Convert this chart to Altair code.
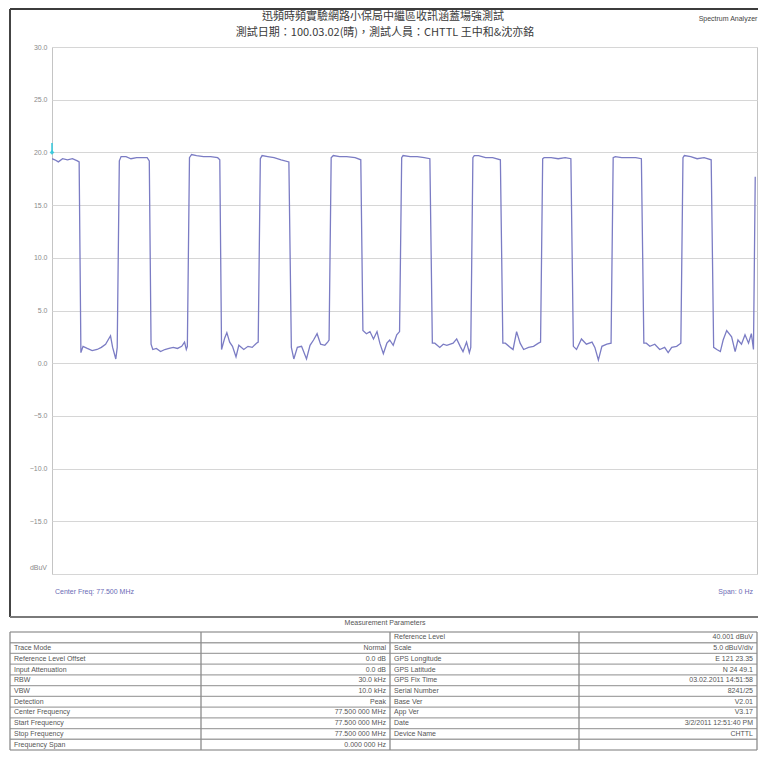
import altair as alt
import pandas as pd

# ---------------- data ----------------
time_ms = [
    0.0, 0.4, 0.9, 1.5, 2.2, 2.9, 3.6, 3.85,
    4.1, 4.4, 5.0, 5.7, 6.4, 7.0, 7.6, 8.3, 8.6, 9.05, 9.25,
    9.55, 9.8, 10.5, 11.2, 12.0, 12.8, 13.5, 13.8,
    14.05, 14.3, 14.8, 15.4, 16.0, 16.6, 17.2, 17.8, 18.4, 18.8, 19.05, 19.2,
    19.5, 19.8, 20.5, 21.5, 22.5, 23.5, 23.8,
    24.05, 24.5, 24.8, 25.2, 25.6, 26.1, 26.5, 27.2, 27.8, 28.4, 29.0, 29.25,
    29.55, 29.8, 30.6, 31.5, 32.5, 33.6,
    33.95, 34.3, 34.8, 35.4, 36.1, 36.6, 37.1, 37.6, 38.1, 38.7, 39.1, 39.3,
    39.6, 39.9, 40.8, 41.8, 43.0, 43.8,
    44.1, 44.6, 45.1, 45.6, 46.1, 46.5, 47.0, 47.5, 47.9, 48.4, 48.9, 49.3,
    49.6, 49.8, 50.8, 51.8, 52.8, 53.6,
    53.95, 54.3, 55.0, 55.5, 56.0, 56.9, 57.4, 57.9, 58.3, 58.8, 59.2, 59.4,
    59.7, 59.9, 60.5, 61.5, 62.5, 63.6,
    63.95, 64.3, 65.0, 65.4, 65.9, 66.4, 66.9, 67.6, 68.3, 69.0, 69.3,
    69.6, 69.8, 70.8, 71.8, 72.8, 73.6,
    73.95, 74.4, 75.1, 75.8, 76.6, 77.0, 77.5, 78.0, 78.7, 79.3,
    79.6, 79.9, 80.8, 81.8, 82.8, 83.6,
    83.95, 84.3, 84.8, 85.5, 86.2, 86.9, 87.4, 87.9, 88.6, 89.2,
    89.5, 89.7, 90.6, 91.5, 92.5, 93.5,
    93.85, 94.3, 94.8, 95.2, 95.7, 96.4, 96.9, 97.3, 97.8, 98.3, 98.8, 99.2, 99.5,
    99.75,
]
level_dbuv = [
    19.4, 19.3, 19.1, 19.4, 19.3, 19.4, 19.2, 19.1,
    1.0, 1.6, 1.4, 1.2, 1.3, 1.5, 1.8, 2.6, 1.5, 0.4, 1.5,
    19.2, 19.6, 19.6, 19.4, 19.5, 19.5, 19.5, 19.2,
    1.8, 1.3, 1.4, 1.1, 1.3, 1.4, 1.5, 1.4, 1.6, 2.0, 1.3, 1.6,
    19.5, 19.8, 19.7, 19.6, 19.6, 19.5, 19.3,
    1.3, 2.4, 2.9, 2.0, 1.6, 0.6, 1.7, 1.3, 1.6, 1.5, 1.9, 2.0,
    19.4, 19.7, 19.6, 19.5, 19.3, 19.1,
    1.5, 0.4, 1.5, 1.6, 0.4, 1.7, 2.2, 2.8, 1.8, 1.7, 2.0, 2.2,
    19.5, 19.7, 19.6, 19.6, 19.5, 19.3,
    3.1, 2.8, 3.0, 2.3, 3.0, 1.9, 0.9, 1.9, 2.2, 1.7, 2.7, 3.0,
    19.5, 19.7, 19.6, 19.6, 19.5, 19.4,
    1.9, 1.9, 1.5, 1.8, 1.7, 1.9, 2.3, 1.6, 1.1, 2.0, 1.0, 1.5,
    19.5, 19.7, 19.7, 19.5, 19.5, 19.3,
    1.9, 1.9, 1.5, 1.3, 3.0, 1.9, 1.3, 1.5, 1.6, 1.9, 2.0,
    19.4, 19.5, 19.5, 19.4, 19.5, 19.4,
    1.6, 1.3, 2.3, 1.8, 2.0, 1.5, 0.3, 1.6, 1.8, 1.9,
    19.5, 19.6, 19.5, 19.5, 19.5, 19.4,
    1.9, 1.9, 1.6, 1.8, 1.3, 1.5, 1.0, 1.5, 1.6, 1.9,
    19.5, 19.7, 19.6, 19.4, 19.5, 19.3,
    1.5, 1.3, 1.1, 2.2, 3.1, 2.5, 1.1, 2.2, 1.8, 2.7, 1.9, 2.8, 1.3,
    17.7,
]
y_ticks = [-20, -15, -10, -5, 0, 5, 10, 15, 20, 25, 30]
marker_time = [0.0]
marker_level = [20.0]

title_line1 = "迅頻時頻實驗網路小保局中繼區收訊涵蓋場強測試"
title_line2 = "測試日期：100.03.02(晴)，測試人員：CHTTL 王中和&沈亦銘"
corner_label = "Spectrum Analyzer"
center_label = "Center Freq: 77.500 MHz"
span_label = "Span: 0 Hz"
unit_label = "dBuV"
table_header = "Measurement Parameters"

left_labels = ["", "Trace Mode", "Reference Level Offset", "Input Attenuation", "RBW", "VBW",
               "Detection", "Center Frequency", "Start Frequency", "Stop Frequency", "Frequency Span"]
left_values = ["", "Normal", "0.0 dB", "0.0 dB", "30.0 kHz", "10.0 kHz",
               "Peak", "77.500 000 MHz", "77.500 000 MHz", "77.500 000 MHz", "0.000 000 Hz"]
right_labels = ["Reference Level", "Scale", "GPS Longitude", "GPS Latitude", "GPS Fix Time",
                "Serial Number", "Base Ver", "App Ver", "Date", "Device Name", ""]
right_values = ["40.001  dBuV", "5.0  dBuV/div", "E 121 23.35", "N 24 49.1", "03.02.2011 14:51:58",
                "8241/25", "V2.01", "V3.17", "3/2/2011 12:51:40 PM", "CHTTL", ""]

# ---------------- layout (pixels, relative to the plot's top-left) ----------------
W, H = 705, 527
FONT = "Liberation Sans"
CJK = "Noto Sans CJK TC"
one = pd.DataFrame({"k": [0]})

trace = pd.DataFrame({"t": time_ms, "v": level_dbuv})
xs = alt.Scale(domain=[0, 100])
ys = alt.Scale(domain=[-20, 30])

y_axis = alt.Axis(
    values=y_ticks, grid=True, gridColor="#d6d6d6", gridWidth=1, domain=False, ticks=False,
    labelPadding=5, labelFontSize=7, labelColor="#8a8a8a", labelFont=FONT, title=None,
    labelExpr="datum.value == -20 ? '' : format(datum.value, '.1f')")

line = alt.Chart(trace).mark_line(color="#7b7cc4", strokeWidth=1.3, clip=True).encode(
    x=alt.X("t:Q", scale=xs, axis=None),
    y=alt.Y("v:Q", scale=ys, axis=y_axis),
)

mk = pd.DataFrame({"t": marker_time, "v": marker_level})
marker = alt.Chart(mk).mark_point(shape="diamond", filled=True, color="#33c8dc", size=22, opacity=0.9).encode(
    x=alt.X("t:Q", scale=xs, axis=None), y=alt.Y("v:Q", scale=ys, axis=y_axis))
marker_tick = alt.Chart(mk).mark_rule(color="#33c8dc", strokeWidth=1.5).encode(
    x=alt.X("t:Q", scale=xs, axis=None), y=alt.Y("v:Q", scale=ys, axis=y_axis), y2=alt.Y2Datum(20.9))

unit_txt = alt.Chart(one).mark_text(text=unit_label, align="right", baseline="middle", fontSize=7,
                                    color="#8a8a8a", font=FONT).encode(
    x=alt.value(-5), y=alt.Y(datum=-19.4, scale=ys, axis=y_axis))

def label(txt, x, y, size=7, color="#6b6bb5", align="left", font=FONT, baseline="middle"):
    return alt.Chart(one).mark_text(text=txt, align=align, baseline=baseline, fontSize=size,
                                    color=color, font=font).encode(
        x=alt.value(x), y=alt.value(y))

texts = [
    label(title_line1, 331, -36.5, size=11, color="#3a3a3a", align="center", font=CJK, baseline="top"),
    label(title_line2, 333, -20.5, size=11, color="#3a3a3a", align="center", font=CJK, baseline="top"),
    label(corner_label, 676, -28, size=7, color="#444444", align="center"),
    label(center_label, 3, 545),
    label(span_label, 701, 545, align="right"),
]

def frame_rule(x, x2, y, y2, color, width):
    enc = dict(x=alt.value(x), y=alt.value(y))
    if x2 is not None:
        enc["x2"] = alt.value(x2)
    if y2 is not None:
        enc["y2"] = alt.value(y2)
    return alt.Chart(one).mark_rule(color=color, strokeWidth=width).encode(**enc)

frame = [
    frame_rule(-42, 706, -38, None, "#3c3c3c", 2),
    frame_rule(-42, None, -38, 570, "#444444", 2),
    frame_rule(-42, 706, 570, None, "#7a7a7a", 2),
]

main = alt.layer(*frame, line, marker_tick, marker, unit_txt, *texts)

# ---------------- parameter table ----------------
n_rows = len(left_labels)
tx = alt.Scale(domain=[0, 1, 2, 3, 4], range=[-42, 149, 338, 527, 705])
ty = alt.Scale(domain=[0, n_rows], range=[585, 703])

lab_rows = []
val_rows = []
for i in range(n_rows):
    lab_rows.append({"col": 0, "row": i + 0.5, "txt": left_labels[i]})
    lab_rows.append({"col": 2, "row": i + 0.5, "txt": right_labels[i]})
    val_rows.append({"col": 2, "row": i + 0.5, "txt": left_values[i]})
    val_rows.append({"col": 4, "row": i + 0.5, "txt": right_values[i]})
lab_df = pd.DataFrame(lab_rows)
val_df = pd.DataFrame(val_rows)

hl = pd.DataFrame({"r": list(range(n_rows + 1)), "c0": [0] * (n_rows + 1), "c1": [4] * (n_rows + 1)})
vl = pd.DataFrame({"c": [0, 1, 2, 3, 4], "r0": [0] * 5, "r1": [n_rows] * 5})

hlines = alt.Chart(hl).mark_rule(color="#a4a4a4", strokeWidth=1.3).encode(
    x=alt.X("c0:Q", scale=tx, axis=None), x2="c1:Q", y=alt.Y("r:Q", scale=ty, axis=None))
vlines = alt.Chart(vl).mark_rule(color="#8c8c8c", strokeWidth=1.3).encode(
    x=alt.X("c:Q", scale=tx, axis=None), y=alt.Y("r0:Q", scale=ty, axis=None), y2="r1:Q")

lab_txt = alt.Chart(lab_df).mark_text(align="left", baseline="middle", dx=4, fontSize=7,
                                      color="#555555", font=FONT).encode(
    x=alt.X("col:Q", scale=tx, axis=None), y=alt.Y("row:Q", scale=ty, axis=None), text="txt:N")
val_txt = alt.Chart(val_df).mark_text(align="right", baseline="middle", dx=-4, fontSize=7,
                                      color="#555555", font=FONT).encode(
    x=alt.X("col:Q", scale=tx, axis=None), y=alt.Y("row:Q", scale=ty, axis=None), text="txt:N")

header = label(table_header, 333, 576, size=7, color="#555555", align="center")

table = alt.layer(hlines, vlines, lab_txt, val_txt, header)

chart = alt.layer(main, table).resolve_scale(x="independent", y="independent").properties(
    width=W, height=H, padding={"left": 1, "top": 0, "right": 0, "bottom": 0},
    background="white",
).configure_view(stroke="#c4c4c4", strokeWidth=1)

chart.save("out.html", embed_options={"renderer": "svg", "actions": False})
